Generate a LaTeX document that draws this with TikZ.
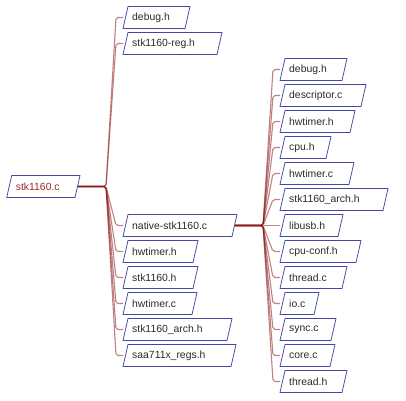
\documentclass[tikz,border=0pt]{standalone}
\usepackage{fontspec}
\setmainfont{Liberation Sans}
\definecolor{fborder}{HTML}{4646A4}
\definecolor{fedge}{HTML}{8B1A1A}
\definecolor{ftxt}{HTML}{2A2A2A}
\definecolor{fred}{HTML}{A02828}
\tikzset{
  fbox/.style={inner sep=0pt, minimum height=22pt, outer sep=0pt},
  fline/.style={draw=fborder, line width=0.75pt, line join=miter},
  ftext/.style={inner sep=0pt, text=ftxt, font=\fontsize{10.4}{12}\selectfont},
  fedgeline/.style={draw=fedge, line width=1.1pt, draw opacity=0.55, rounded corners=2pt},
}
\newcommand\filenode[6][ftxt]{%
  \node[fbox, minimum width={#4-#3}] (#2) at ({(#3+#4)/2},#5) {};
  \draw[fline] ([xshift=5pt]#2.north west) -- (#2.north east) -- ([xshift=-5pt]#2.south east) -- (#2.south west) -- cycle;
  \node[ftext, text=#1, anchor=west] (#2-t) at ([xshift=9pt]#2.west) {#6};
}
\begin{document}
\begin{tikzpicture}[x=1pt,y=-1pt]
\useasboundingbox (0,0) rectangle (406,400);
% main
\filenode[fred]{main}{6.7}{80}{186.5}{stk1160.c}
% left column
\filenode{a1}{123}{190}{17.5}{debug.h}
\filenode{a2}{123}{222}{43.5}{stk1160-reg.h}
\filenode{a3}{123}{237}{225.5}{native-stk1160.c}
\filenode{a4}{123}{198}{251.5}{hwtimer.h}
\filenode{a5}{123}{198}{277.5}{stk1160.h}
\filenode{a6}{123}{197}{303.5}{hwtimer.c}
\filenode{a7}{123}{232}{329.5}{stk1160\_arch.h}
\filenode{a8}{123}{236}{355.5}{saa711x\_regs.h}
% right column
\filenode{b1}{280}{347}{69.5}{debug.h}
\filenode{b2}{280}{366}{95.5}{descriptor.c}
\filenode{b3}{280}{355}{121.5}{hwtimer.h}
\filenode{b4}{280}{331}{147.5}{cpu.h}
\filenode{b5}{280}{354}{173.5}{hwtimer.c}
\filenode{b6}{280}{388}{199.5}{stk1160\_arch.h}
\filenode{b7}{280}{343}{225.5}{libusb.h}
\filenode{b8}{280}{361}{251.5}{cpu-conf.h}
\filenode{b9}{280}{347}{277.5}{thread.c}
\filenode{b10}{280}{319}{303.5}{io.c}
\filenode{b11}{280}{336}{329.5}{sync.c}
\filenode{b12}{280}{335}{355.5}{core.c}
\filenode{b13}{280}{347}{381.5}{thread.h}
% branch points
\coordinate (ja) at (106,186.5);
\coordinate (jb) at (263,225.5);
\foreach \n in {a1,a2,a3,a4,a5,a6,a7,a8}{
  \draw[fedgeline] ([xshift=-2pt]main.east) -- (ja) -- (116,0 |- \n.west) -- (\n.west);
}
\foreach \n in {b1,b2,b3,b4,b5,b6,b8,b9,b10,b11,b12,b13}{
  \draw[fedgeline] ([xshift=-2pt]a3.east) -- (jb) -- (273,0 |- \n.west) -- (\n.west);
}
\draw[fedgeline] ([xshift=-2pt]a3.east) -- (jb) -- (b7.west);
\end{tikzpicture}
\end{document}
